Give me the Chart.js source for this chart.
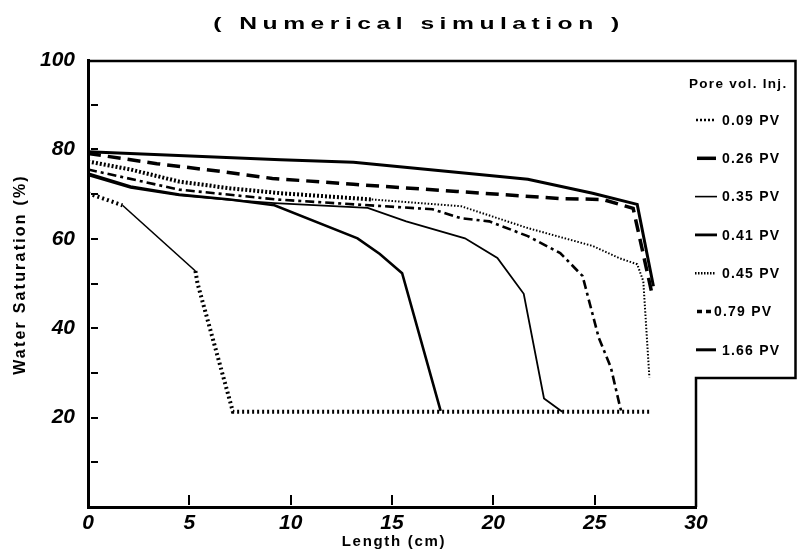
<!DOCTYPE html>
<html>
<head>
<meta charset="utf-8">
<script src="https://cdn.jsdelivr.net/npm/chart.js@4.4.0/dist/chart.umd.min.js"></script>
<style>
  html, body { margin: 0; padding: 0; background: #fff; }
  canvas { display: block; }
</style>
</head>
<body>
<canvas id="sat" width="797" height="552"></canvas>
<script>
// Water saturation profiles along the core, one curve per injected pore volume
const seriesNames = ['0.09 PV', '0.26 PV', '0.35 PV', '0.41 PV', '0.45 PV', '0.79 PV', '1.66 PV'];

const len009 = [0, 1.7, 5.3, 5.4, 7.15, 27.7];
const sw009  = [70.2, 67.5, 52.8, 50.1, 21.3, 21.3];

const len026 = [0, 2.1, 4.5, 7.0, 9.2, 13.3, 14.4, 15.5, 17.4];
const sw026  = [74.6, 71.7, 69.9, 68.8, 67.5, 60.1, 56.6, 52.3, 21.5];

const len035 = [0, 2.1, 4.5, 7.0, 9.2, 13.8, 15.7, 18.6, 20.2, 21.5, 22.5, 23.4];
const sw035  = [74.2, 71.4, 69.7, 68.7, 68.0, 66.9, 63.9, 60.1, 55.7, 47.7, 24.3, 21.3];

const len041 = [0, 4.5, 9.3, 13.5, 17.0, 18.4, 19.8, 21.7, 23.3, 24.4, 25.2, 25.8, 26.2, 26.3];
const sw041  = [75.5, 71.0, 68.8, 67.6, 66.6, 64.6, 63.9, 60.6, 56.8, 51.7, 37.9, 31.2, 23.4, 21.6];

const len045 = [0, 2.1, 4.5, 7.0, 9.5, 14.0, 18.4, 21.7, 24.9, 26.2, 27.1, 27.4, 27.7];
const sw045  = [77.3, 75.5, 72.8, 71.3, 70.2, 68.8, 67.3, 62.4, 58.4, 55.7, 54.3, 50.5, 29.0];

const len079 = [0, 3.4, 6.5, 9.1, 13.1, 18.2, 23.3, 25.4, 26.9, 27.8];
const sw079  = [79.1, 76.8, 75.1, 73.5, 72.2, 70.6, 69.0, 68.8, 66.8, 48.3];

const len166 = [0, 9.5, 13.1, 18.8, 21.7, 24.9, 27.1, 27.9];
const sw166  = [79.5, 77.7, 77.1, 74.6, 73.3, 70.2, 67.7, 49.4];

const xTicks = [0, 5, 10, 15, 20, 25, 30];
const yTicks = [20, 40, 60, 80, 100];

const pts = (xs, ys) => xs.map((v, i) => ({ x: v, y: ys[i] }));

const HATCH = [2, 3];
const DOTS = [1.5, 1.8];
const DASH = [13, 7];
const DASHDOT = [9, 4, 3, 4];

const datasets = [
  {
    label: seriesNames[0], data: pts(len009, sw009), borderWidth: 4, borderDash: HATCH,
    segment: {
      borderDash: c => c.p0DataIndex === 1 ? [] : HATCH,
      borderWidth: c => c.p0DataIndex === 1 ? 1.6 : 4
    }
  },
  { label: seriesNames[1], data: pts(len026, sw026), borderWidth: 2.6 },
  { label: seriesNames[2], data: pts(len035, sw035), borderWidth: 1.8 },
  { label: seriesNames[3], data: pts(len041, sw041), borderWidth: 2.6, borderDash: DASHDOT },
  {
    label: seriesNames[4], data: pts(len045, sw045), borderWidth: 2, borderDash: DOTS,
    segment: {
      borderDash: c => c.p0DataIndex < 5 ? [2, 2] : DOTS,
      borderWidth: c => c.p0DataIndex < 5 ? 4 : 2
    }
  },
  { label: seriesNames[5], data: pts(len079, sw079), borderWidth: 3.5, borderDash: DASH },
  { label: seriesNames[6], data: pts(len166, sw166), borderWidth: 3 }
];
datasets.forEach(d => {
  d.borderColor = '#000';
  d.pointRadius = 0;
  d.fill = false;
  d.tension = 0;
});

// legend sample strokes, same order as seriesNames
const legendStyles = [
  { dash: [2, 2], width: 2.5, from: 696, to: 714 },
  { dash: [], width: 3.5, from: 697, to: 716 },
  { dash: [], width: 1.6, from: 695, to: 717 },
  { dash: [], width: 2.8, from: 695, to: 717 },
  { dash: [1.5, 1.5], width: 2.5, from: 695, to: 715 },
  { dash: [5, 4], width: 3.5, from: 697, to: 713 },
  { dash: [], width: 3, from: 696, to: 716 }
];

const boxBottom = 378;
const FAMILY = '"Liberation Sans", Arial, sans-serif';

const decorations = {
  id: 'decorations',
  afterDraw(chart) {
    const { ctx, chartArea: a, scales: { x, y } } = chart;
    ctx.save();
    ctx.strokeStyle = '#000';
    ctx.fillStyle = '#000';
    ctx.setLineDash([]);

    // inner tick marks
    ctx.lineWidth = 2;
    for (let v = 10; v < 100; v += 10) {
      const py = Math.round(y.getPixelForValue(v));
      ctx.beginPath(); ctx.moveTo(a.left + 3, py); ctx.lineTo(a.left + 10, py); ctx.stroke();
    }
    for (let v = 5; v < 30; v += 5) {
      const px = Math.round(x.getPixelForValue(v));
      ctx.beginPath(); ctx.moveTo(px, a.bottom - 2); ctx.lineTo(px, a.bottom - 12); ctx.stroke();
    }

    // outer frame, stepped round the legend box
    ctx.lineWidth = 2.5;
    ctx.beginPath();
    ctx.moveTo(a.left, a.top + 1);
    ctx.lineTo(795.5, a.top + 1);
    ctx.lineTo(795.5, boxBottom);
    ctx.lineTo(a.right, boxBottom);
    ctx.lineTo(a.right, a.bottom);
    ctx.stroke();

    // title, wide lettering
    ctx.textAlign = 'center';
    ctx.textBaseline = 'middle';
    ctx.save();
    ctx.translate(419, 24);
    ctx.scale(1.45, 1);
    ctx.font = 'bold 17px ' + FAMILY;
    ctx.letterSpacing = '3.8px';
    ctx.fillText('( Numerical simulation )', 0, 0);
    ctx.restore();

    // axis titles
    ctx.font = 'bold 15px ' + FAMILY;
    ctx.letterSpacing = '1.7px';
    ctx.fillText('Length (cm)', (a.left + a.right) / 2 + 2, 542);
    ctx.save();
    ctx.translate(21, (a.top + a.bottom) / 2 - 9);
    ctx.rotate(-Math.PI / 2);
    ctx.font = 'bold 16px ' + FAMILY;
    ctx.letterSpacing = '2.2px';
    ctx.fillText('Water Saturation (%)', 0, 0);
    ctx.restore();

    // legend
    ctx.letterSpacing = '1.3px';
    ctx.textAlign = 'left';
    ctx.font = 'bold 13.5px ' + FAMILY;
    ctx.fillText('Pore vol. Inj.', 689, 84);
    ctx.letterSpacing = '1.2px';
    ctx.font = 'bold 14px ' + FAMILY;
    seriesNames.forEach((name, i) => {
      const ly = 120 + i * 38.3;
      const s = legendStyles[i];
      ctx.lineWidth = s.width;
      ctx.setLineDash(s.dash);
      ctx.beginPath(); ctx.moveTo(s.from, ly); ctx.lineTo(s.to, ly); ctx.stroke();
      ctx.setLineDash([]);
      ctx.fillText(name, i === 5 ? 714 : 722, ly + 1);
    });
    ctx.restore();
  }
};

const tickFont = { family: FAMILY, size: 21, style: 'italic', weight: 'bold' };

new Chart(document.getElementById('sat'), {
  type: 'line',
  data: { datasets },
  options: {
    responsive: false,
    animation: false,
    layout: { padding: { top: 60, right: 101, left: 0, bottom: 0 } },
    plugins: { legend: { display: false }, tooltip: { enabled: false } },
    scales: {
      x: {
        type: 'linear', min: 0, max: 30,
        afterBuildTicks: s => { s.ticks = xTicks.map(v => ({ value: v })); },
        afterFit: s => { s.height = 45; },
        grid: { display: false, drawTicks: false },
        border: { display: true, color: '#000', width: 3 },
        ticks: { color: '#000', font: tickFont, padding: 4, maxRotation: 0 }
      },
      y: {
        type: 'linear', min: 0, max: 100,
        afterBuildTicks: s => { s.ticks = yTicks.map(v => ({ value: v })); },
        afterFit: s => { s.width = 88; },
        grid: { display: false, drawTicks: false },
        border: { display: true, color: '#000', width: 3 },
        ticks: { color: '#000', font: tickFont, padding: 13 }
      }
    }
  },
  plugins: [decorations]
});
</script>
</body>
</html>
